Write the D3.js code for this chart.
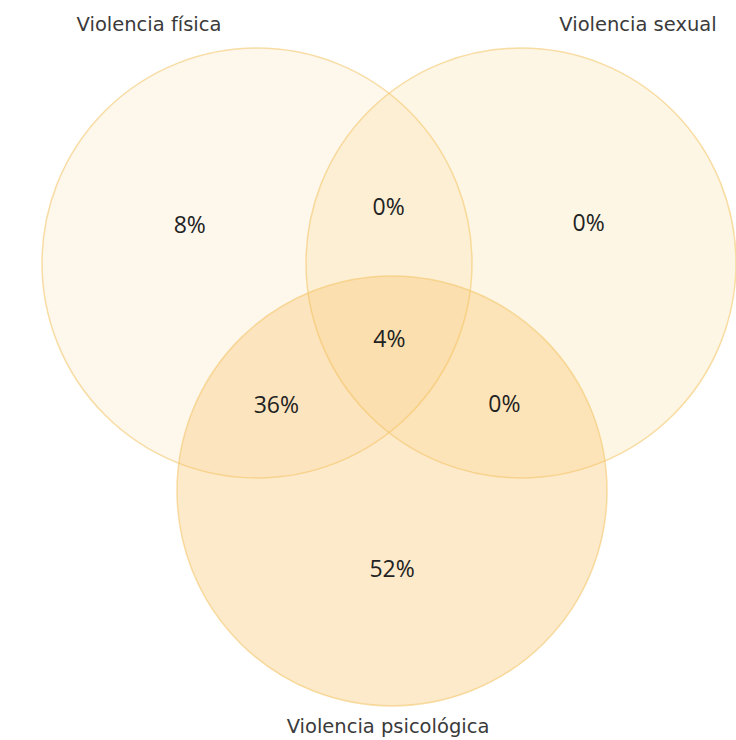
<!DOCTYPE html>
<html><head><meta charset="utf-8">
<script src="https://cdn.jsdelivr.net/npm/d3@7"></script>
<style>body{margin:0;background:#fff}svg{display:block}</style>
</head><body>
<script>
// Data
const sets = ["Violencia física", "Violencia sexual", "Violencia psicológica"];
const regions = [
  {sets:[0], value:8},
  {sets:[1], value:0},
  {sets:[2], value:52},
  {sets:[0,1], value:0},
  {sets:[0,2], value:36},
  {sets:[1,2], value:0},
  {sets:[0,1,2], value:4}
];
// layout in unit space (radius = 1)
const centersU = [[0,0],[1.228,0],[0.628,1.06]];
const fills = ["rgba(246,190,110,0.13)","rgba(250,205,110,0.19)","rgba(248,190,92,0.32)"];

const W=736,H=740;
const svg=d3.select("body").append("svg").attr("width",W).attr("height",H);
const R=215;
const x=d3.scaleLinear().domain([0,1]).range([257,257+R]);
const y=d3.scaleLinear().domain([0,1]).range([263,263+R]);

svg.selectAll("circle").data(centersU).join("circle")
  .attr("cx",d=>x(d[0])).attr("cy",d=>y(d[1])).attr("r",R)
  .attr("fill",(d,i)=>fills[i])
  .attr("stroke","rgba(243,200,110,0.6)").attr("stroke-width",1.5);

// region label anchor: blend of sampled region centroid and member-centre mean
function inside(px,py,i){const c=centersU[i];return (px-c[0])**2+(py-c[1])**2<=1;}
regions.forEach(r=>{
  let sx=0,sy=0,n=0;
  for(let px=-1;px<=2.3;px+=0.01)for(let py=-1;py<=2.1;py+=0.01){
    let ok=true;
    for(let i=0;i<3;i++){const inn=inside(px,py,i);if(inn!==r.sets.includes(i)){ok=false;break;}}
    if(ok){sx+=px;sy+=py;n++;}
  }
  r.cx=sx/n;r.cy=sy/n;
});
svg.selectAll("text.val").data(regions).join("text").attr("class","val")
  .attr("x",d=>x(d.cx)).attr("y",d=>y(d.cy)).attr("dy","0.35em")
  .attr("text-anchor","middle").attr("font-family","Open Sans, sans-serif")
  .attr("font-size",23).attr("fill","#222").text(d=>d.value+"%");

const labelPos=[{x:149,y:31},{x:638,y:31},{x:388,y:733}];
svg.selectAll("text.lab").data(sets).join("text").attr("class","lab")
  .attr("x",(d,i)=>labelPos[i].x).attr("y",(d,i)=>labelPos[i].y)
  .attr("text-anchor","middle").attr("font-family","DejaVu Sans, sans-serif")
  .attr("font-size",19.5).attr("fill","#3a3a3a").text(d=>d);
</script>
</body></html>
